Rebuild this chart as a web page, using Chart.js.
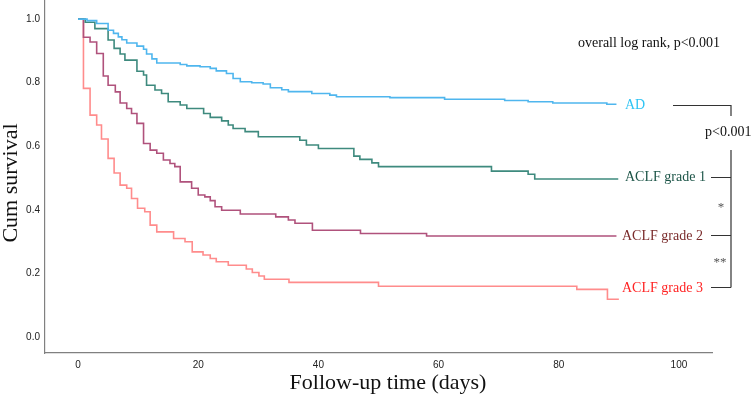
<!DOCTYPE html>
<html>
<head>
<meta charset="utf-8">
<script src="https://cdn.jsdelivr.net/npm/chart.js@4/dist/chart.umd.min.js"></script>
<style>
  html, body { margin: 0; padding: 0; background: #fff; }
  #wrap { width: 754px; height: 395px; }
</style>
</head>
<body>
<div id="wrap"><canvas id="kmChart"></canvas></div>
<script>
// Kaplan-Meier survival curves by group

const xTicks = [0, 20, 40, 60, 80, 100];
const yTicks = [0, 0.2, 0.4, 0.6, 0.8, 1.0];

const groupNames = ['AD', 'ACLF grade 1', 'ACLF grade 2', 'ACLF grade 3'];

const adDays = [0, 1.5, 3.1, 5.0, 5.9, 6.7, 7.3, 8.1, 9.8, 10.9, 11.4, 12.3, 13.1, 17, 18.1, 20.3, 22, 23, 24.7, 25.8, 27, 28.9, 30.8, 32, 33.9, 35, 38.9, 41.9, 43, 51.9, 61, 71, 74.9, 79, 88, 89.6];
const adSurv = [1, 0.995, 0.986, 0.965, 0.955, 0.944, 0.935, 0.925, 0.915, 0.905, 0.89, 0.875, 0.862, 0.857, 0.853, 0.85, 0.845, 0.837, 0.829, 0.813, 0.803, 0.8, 0.796, 0.784, 0.778, 0.772, 0.766, 0.761, 0.756, 0.753, 0.748, 0.744, 0.74, 0.736, 0.732, 0.732];

const g1Days = [0, 1.2, 2.8, 5, 6, 7, 7.8, 9.8, 10.9, 11.4, 12.8, 13.9, 15, 17, 18.1, 20.9, 22, 23.9, 25, 25.8, 27.8, 30, 36.9, 38, 40, 45.9, 46.9, 48.9, 50, 68.8, 74.9, 76, 89.9];
const g1Surv = [1, 0.99, 0.97, 0.934, 0.908, 0.89, 0.871, 0.836, 0.824, 0.792, 0.777, 0.766, 0.74, 0.73, 0.719, 0.703, 0.691, 0.68, 0.667, 0.656, 0.646, 0.63, 0.619, 0.604, 0.593, 0.569, 0.559, 0.548, 0.536, 0.522, 0.512, 0.497, 0.497];

const g2Days = [0, 0.9, 2, 3.1, 4.2, 5, 6.2, 7, 8.1, 8.9, 9.8, 10.9, 12, 13.1, 14.2, 15.3, 16.1, 17, 18.9, 20, 21.1, 22, 22.8, 23.9, 27, 32.9, 35, 36.1, 39, 47, 58, 89.6];
const g2Surv = [1, 0.943, 0.928, 0.892, 0.821, 0.792, 0.771, 0.736, 0.719, 0.703, 0.672, 0.609, 0.588, 0.578, 0.557, 0.546, 0.536, 0.488, 0.468, 0.447, 0.441, 0.429, 0.41, 0.399, 0.387, 0.378, 0.368, 0.358, 0.336, 0.326, 0.318, 0.318];

const g3Days = [0, 0.9, 2, 3.1, 3.9, 5, 6, 7, 8.1, 8.9, 9.9, 11.1, 12, 13.1, 15.9, 17.8, 19, 20.8, 22, 23, 25, 28, 29, 30.1, 31, 35.1, 50, 83, 88.1, 90];
const g3Surv = [1, 0.782, 0.698, 0.667, 0.623, 0.562, 0.516, 0.478, 0.468, 0.436, 0.405, 0.394, 0.352, 0.331, 0.31, 0.3, 0.268, 0.258, 0.247, 0.237, 0.226, 0.214, 0.203, 0.192, 0.182, 0.172, 0.16, 0.15, 0.119, 0.119];

const lineColors = ['#4fb6ee', '#3e8a7e', '#b0527c', '#ff8c8c'];
const labelColors = ['#2ec4f4', '#1d5548', '#7a2b2b', '#ff2424'];

function toPoints(days, surv) {
    return days.map((d, i) => ({ x: d, y: surv[i] }));
}

const seriesData = [
    toPoints(adDays, adSurv),
    toPoints(g1Days, g1Surv),
    toPoints(g2Days, g2Surv),
    toPoints(g3Days, g3Surv)
];

// Draws the group labels, p-value bracket and axis titles
const annotationPlugin = {
    id: 'kmAnnotations',
    afterDraw(chart) {
        const ctx = chart.ctx;
        ctx.save();

        ctx.font = '14px "Liberation Serif"';
        ctx.textBaseline = 'middle';
        ctx.textAlign = 'left';
        ctx.fillStyle = '#111';
        ctx.fillText('overall log rank, p<0.001', 578, 43);
        ctx.fillText('p<0.001', 705, 132);

        const labelX = [625, 625, 622, 622];
        const labelY = [105, 177, 236, 288];
        groupNames.forEach((name, i) => {
            ctx.fillStyle = labelColors[i];
            ctx.fillText(name, labelX[i], labelY[i]);
        });

        // bracket
        ctx.strokeStyle = '#333';
        ctx.lineWidth = 1.2;
        ctx.beginPath();
        ctx.moveTo(673, 105.5); ctx.lineTo(731, 105.5); ctx.lineTo(731, 116);
        ctx.moveTo(731, 150); ctx.lineTo(731, 287.5);
        ctx.moveTo(711, 177.5); ctx.lineTo(731, 177.5);
        ctx.moveTo(711, 235.5); ctx.lineTo(731, 235.5);
        ctx.moveTo(711, 287.5); ctx.lineTo(731, 287.5);
        ctx.stroke();

        ctx.fillStyle = '#555';
        ctx.font = '13px "Liberation Serif"';
        ctx.textAlign = 'center';
        ctx.fillText('*', 721, 208);
        ctx.fillText('**', 720, 263);

        // axis titles
        ctx.fillStyle = '#111';
        ctx.font = '22px "Liberation Serif"';
        ctx.textAlign = 'center';
        ctx.textBaseline = 'alphabetic';
        ctx.fillText('Follow-up time (days)', 388, 389);

        ctx.translate(17, 183);
        ctx.rotate(-Math.PI / 2);
        ctx.fillText('Cum survival', 0, 0);

        ctx.restore();
    }
};

const ctx = document.getElementById('kmChart').getContext('2d');
const kmChart = new Chart(ctx, {
    type: 'scatter',
    data: {
        datasets: seriesData.map((pts, i) => ({
            label: groupNames[i],
            data: pts,
            showLine: true,
            stepped: true,
            borderColor: lineColors[i],
            borderWidth: 1.6,
            pointRadius: 0,
            pointHoverRadius: 0,
            fill: false
        }))
    },
    options: {
        responsive: true,
        maintainAspectRatio: false,
        animation: false,
        layout: { padding: { left: 0, right: 42, top: 0, bottom: 0 } },
        plugins: {
            legend: { display: false },
            tooltip: { enabled: false }
        },
        scales: {
            x: {
                type: 'linear',
                min: -5.5,
                max: 105.5,
                grid: { display: false, drawTicks: false },
                border: { display: true, color: '#808080', width: 1.2 },
                ticks: {
                    padding: 6,
                    color: '#222',
                    font: { family: 'Liberation Sans', size: 10 }
                },
                afterBuildTicks: axis => { axis.ticks = xTicks.map(v => ({ value: v })); },
                afterFit: scale => {
                    scale.height = 42;
                    scale.paddingLeft = 0;
                    scale.paddingRight = 0;
                }
            },
            y: {
                type: 'linear',
                min: -0.05,
                max: 1.06,
                grid: { display: false, drawTicks: false },
                border: { display: true, color: '#808080', width: 1.2 },
                ticks: {
                    padding: 5,
                    color: '#222',
                    font: { family: 'Liberation Sans', size: 10 },
                    callback: v => v.toFixed(1)
                },
                afterBuildTicks: axis => { axis.ticks = yTicks.map(v => ({ value: v })); },
                afterFit: scale => {
                    scale.width = 45;
                    scale.paddingTop = 0;
                    scale.paddingBottom = 0;
                }
            }
        }
    },
    plugins: [annotationPlugin]
});
</script>
</body>
</html>
